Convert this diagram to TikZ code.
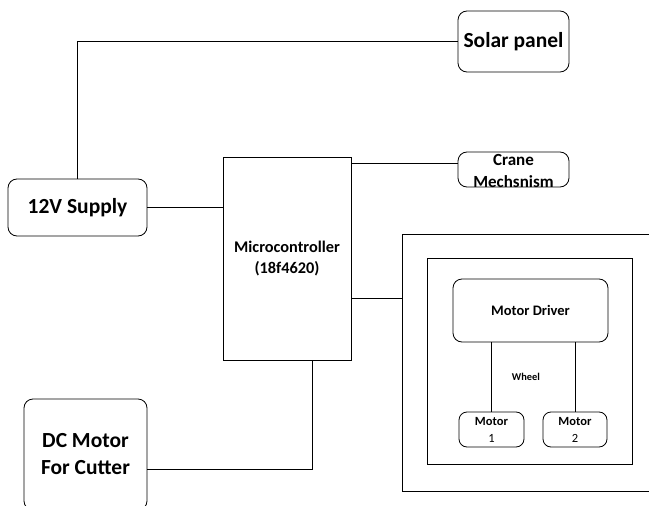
\documentclass[tikz,border=0pt]{standalone}
\usepackage{fontspec}
\setmainfont{Carlito}
\begin{document}
\begin{tikzpicture}[x=1pt,y=-1pt,line width=0.8pt,
  rbox/.style={draw,rounded corners=9pt,align=center,inner sep=0pt},
  sbox/.style={draw,align=center,inner sep=0pt},
  big/.style={font=\bfseries\fontsize{21.5}{27}\selectfont},
  mid/.style={font=\bfseries\fontsize{16.3}{21}\selectfont},
  wire/.style={draw,line width=0.8pt}]
\clip (0,0) rectangle (649,506);
% boxes
\node[rbox,big,minimum width=111pt,minimum height=61pt] (solar) at (513.5,41.5) {Solar panel};
\node[rbox,big,minimum width=139pt,minimum height=57pt] (supply) at (77.5,207.5) {12V Supply};
\node[sbox,mid,minimum width=128pt,minimum height=203pt] (micro) at (287,258.5) {Microcontroller\\(18f4620)};
\node[rbox,minimum width=111pt,minimum height=35pt,
  label={[font=\bfseries\fontsize{17}{22}\selectfont,align=center,yshift=-1.5pt]center:Crane\\Mechsnism}] (crane) at (513.5,169.5) {};
\node[rbox,big,minimum width=123pt,minimum height=111pt] (dc) at (85.5,454.5) {DC Motor\\For Cutter};
\node[sbox,minimum width=258pt,minimum height=257pt] (outer) at (531,362.5) {};
\node[sbox,minimum width=205pt,minimum height=206pt] (inner) at (529.5,361) {};
\node[rbox,font=\bfseries\fontsize{14.5}{18}\selectfont,minimum width=155pt,minimum height=63pt] (driver) at (530.5,310.5) {Motor Driver};
\node[rbox,rounded corners=8pt,font=\fontsize{12.5}{17}\selectfont,minimum width=65pt,minimum height=35pt] (m1) at (491.5,429.5) {\textbf{Motor}\\1};
\node[rbox,rounded corners=8pt,font=\fontsize{12.5}{17}\selectfont,minimum width=64pt,minimum height=35pt] (m2) at (575,429.5) {\textbf{Motor}\\2};
\node[font=\bfseries\fontsize{10.4}{12}\selectfont,inner sep=0pt] (wheel) at (526,377) {Wheel};
% connectors
\draw[wire] (solar.west) -| (supply.north);
\draw[wire] (supply.east) -- (supply.east -| micro.west);
\draw[wire] ([yshift=6.5pt]crane.west) -- ([yshift=6.5pt]crane.west -| micro.east);
\draw[wire] ([yshift=-39.5pt]micro.east) -- ([yshift=-39.5pt]micro.east -| outer.west);
\draw[wire] ([xshift=25pt]micro.south) |- ([yshift=-14.5pt]dc.east);
\draw[wire] (m1.north) -- (m1.north |- driver.south);
\draw[wire] (m2.north) -- (m2.north |- driver.south);
\end{tikzpicture}
\end{document}
